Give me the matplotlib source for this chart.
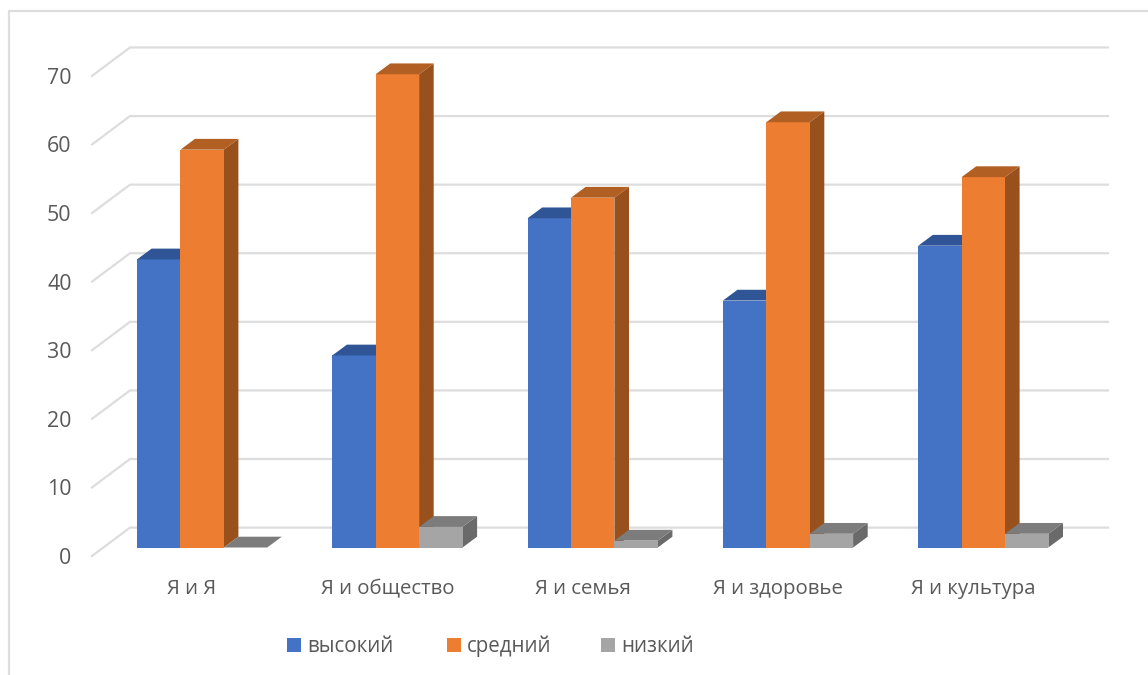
"""Excel-style 3D clustered columns, drawn as flat polygons."""
import matplotlib
matplotlib.use("Agg")
import matplotlib.pyplot as plt
from matplotlib.patches import Polygon, Rectangle

plt.rcParams["font.family"] = ["Open Sans", "DejaVu Sans"]

categories = ["Я и Я", "Я и общество", "Я и семья", "Я и здоровье", "Я и культура"]
series_names = ["высокий", "средний", "низкий"]
vysokiy = [42, 28, 48, 36, 44]
sredniy = [58, 69, 51, 62, 54]
nizkiy = [0, 3, 1, 2, 2]
y_ticks = [0, 10, 20, 30, 40, 50, 60, 70]

W, H = 1148, 675
X0, GROUP = 137.0, 195.3    # px of first bar, px per group
Y0, UNIT = 547.5, 6.859     # px of value 0, px per value unit

FRONT = ["#4472C4", "#ED7D31", "#A5A5A5"]
TOP = ["#2F5597", "#B25F23", "#7C7C7C"]
SIDE = ["#2A4B85", "#98511C", "#6A6A6A"]
GRID = "#DDDDDD"
TEXT = "#595959"


def px_x(px):
    return (px - X0) / GROUP


def px_y(px):
    return (Y0 - px) / UNIT


BAR_W = 43.4 / GROUP
DX = 14.6 / GROUP
DY = 10.8 / UNIT

fig = plt.figure(figsize=(W / 100, H / 100), dpi=100, facecolor="white")
ax = fig.add_axes([0, 0, 1, 1])
ax.set_xlim(px_x(0), px_x(W))
ax.set_ylim(px_y(H), px_y(0))
ax.axis("off")

# chart frame: only the top and left edges are in the crop
ax.plot([px_x(9.2), px_x(9.2), px_x(W)], [px_y(H), px_y(10.8), px_y(10.8)],
        color=GRID, lw=1.6, solid_capstyle="butt")

# back wall gridlines with the slanted floor part
front_l = px_x(92)
back_l = px_x(130)
back_r = px_x(1108)
front_off = px_y(556)
back_off = px_y(527.6)
for v in y_ticks:
    ax.plot([front_l, back_l, back_r], [v + front_off, v + back_off, v + back_off],
            color=GRID, lw=1.6, solid_joinstyle="miter", zorder=1)
    ax.text(px_x(71.5), v + px_y(564), str(v), ha="right", va="baseline",
            fontsize=15.4, color=TEXT)

for i, name in enumerate(categories):
    ax.text(i + px_x(192), px_y(594.3), name, ha="center", va="baseline",
            fontsize=14.7, color=TEXT)
    for j, vals in enumerate([vysokiy, sredniy, nizkiy]):
        v = vals[i]
        left = i + j * BAR_W
        right = left + BAR_W
        if v > 0:
            ax.add_patch(Polygon([(right, 0), (right + DX, DY), (right + DX, v + DY), (right, v)],
                                 facecolor=SIDE[j], edgecolor="none", zorder=2 + j))
            ax.add_patch(Rectangle((left, 0), BAR_W, v, facecolor=FRONT[j],
                                   edgecolor="none", zorder=2 + j))
        ax.add_patch(Polygon([(left, v), (left + DX, v + DY), (right + DX, v + DY), (right, v)],
                             facecolor=TOP[j], edgecolor="none", zorder=2 + j))

# legend by hand, Excel spacing
for name, color, box_px, text_px in zip(series_names, FRONT, [287, 447, 601], [307, 467, 621]):
    ax.add_patch(Rectangle((px_x(box_px), px_y(652)), 14 / GROUP, 14 / UNIT,
                           facecolor=color, edgecolor="none"))
    ax.text(px_x(text_px), px_y(651.7), name, ha="left", va="baseline",
            fontsize=14.8, color=TEXT)

fig.savefig("out.png", dpi=100, facecolor="white")
